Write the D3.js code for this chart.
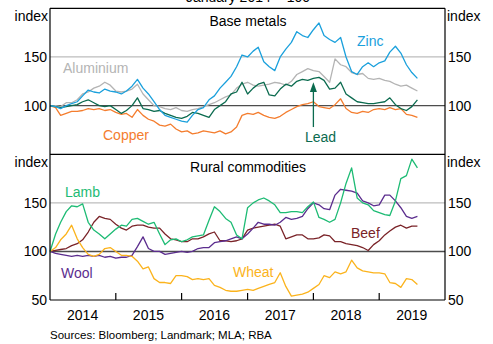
<!DOCTYPE html>
<html>
<head>
<meta charset="utf-8">
<script src="https://cdn.jsdelivr.net/npm/d3@7"></script>
<style>
  html, body { margin: 0; padding: 0; background: #fff; }
  svg { display: block; font-family: "Liberation Sans", Arial, sans-serif; }
</style>
</head>
<body>
<svg id="chart" width="493" height="344"></svg>
<script>
// Monthly observations, January 2014 to August 2019 (January 2014 = 100)
const dates = d3.timeMonth.range(new Date(2014, 0, 1), new Date(2019, 8, 1));

// Base metals
const zinc = [100, 99, 97, 100, 102, 104, 110, 116, 114, 113, 117, 115,
  114, 112, 115, 120, 127, 118, 112, 104, 96, 90, 88, 86,
  84, 83, 90, 96, 98, 106, 110, 118, 124, 130, 140, 152,
  150, 156, 160, 145, 140, 136, 150, 158, 165, 176, 172, 170,
  178, 185, 172, 168, 165, 170, 150, 135, 132, 140, 144, 140,
  144, 146, 155, 161, 154, 142, 134, 128];
const aluminium = [100, 100, 99, 103, 103, 106, 112, 114, 118, 120, 124, 121,
  115, 114, 115, 117, 122, 112, 106, 100, 99, 97, 96, 98,
  95, 94, 96, 97, 99, 101, 103, 106, 109, 111, 118, 122,
  124, 121, 120, 121, 122, 124, 123, 121, 125, 132, 135, 138,
  136, 135, 130, 124, 148, 142, 140, 134, 132, 133, 128, 127,
  128, 126, 125, 122, 120, 121, 118, 115];
const lead = [100, 99, 98, 99, 100, 101, 104, 106, 103, 100, 99, 100,
  96, 92, 95, 100, 108, 97, 96, 94, 95, 92, 90, 88,
  87, 89, 93, 92, 90, 88, 96, 100, 104, 112, 114, 124,
  112, 118, 122, 124, 111, 110, 117, 122, 120, 125, 127, 126,
  128, 129, 126, 117, 118, 124, 112, 108, 104, 103, 102, 102,
  103, 104, 108, 101, 97, 95, 99, 106];
const copper = [100, 98, 90, 92, 94, 94, 95, 97, 96, 97, 95, 96,
  93, 91, 92, 88, 96, 90, 86, 84, 80, 79, 81, 76,
  73, 74, 71, 72, 74, 73, 72, 74, 71, 73, 78, 90,
  92, 91, 93, 90, 88, 87, 89, 93, 96, 99, 101, 102,
  104, 99, 98, 97, 101, 107, 97, 93, 92, 94, 93, 96,
  97, 96, 98, 96, 97, 91, 90, 88];

// Rural commodities
const lamb = [100, 118, 130, 141, 147, 146, 149, 130, 122, 118, 113, 118,
  123, 127, 126, 133, 134, 131, 128, 130, 118, 107, 112, 113,
  110, 112, 115, 116, 117, 132, 146, 141, 134, 130, 117, 113,
  145, 150, 153, 155, 152, 148, 140, 140, 141, 141, 140, 146,
  151, 135, 133, 130, 133, 150, 170, 186, 155, 150, 148, 142,
  140, 138, 137, 152, 175, 178, 195, 186];
const beef = [100, 101, 102, 103, 106, 108, 112, 120, 130, 136, 134, 133,
  128, 124, 122, 126, 127, 127, 125, 124, 124, 118, 113, 112,
  110, 110, 113, 113, 115, 118, 120, 111, 111, 110, 111, 113,
  122, 124, 125, 126, 127, 128, 126, 113, 115, 117, 117, 113,
  113, 114, 117, 116, 110, 110, 108, 107, 106, 104, 101, 107,
  111, 117, 121, 125, 127, 124, 126, 126];
const wool = [100, 98, 97, 96, 95, 96, 95, 96, 95, 96, 94, 95,
  93, 94, 94, 96, 105, 115, 103, 100, 100, 97, 98, 99,
  100, 99, 100, 103, 104, 104, 109, 110, 111, 113, 115, 113,
  118, 124, 130, 128, 128, 127, 130, 135, 133, 134, 136, 144,
  150, 148, 144, 143, 158, 164, 163, 162, 160, 152, 150, 147,
  148, 158, 158, 152, 145, 136, 134, 136];
const wheat = [100, 104, 112, 118, 127, 113, 104, 97, 95, 97, 103, 104,
  100, 96, 96, 95, 90, 82, 84, 72, 68, 68, 67, 75,
  75, 74, 71, 72, 71, 72, 65, 63, 60, 59, 59, 60,
  61, 60, 62, 64, 66, 68, 78, 64, 54, 55, 56, 58,
  62, 66, 75, 73, 79, 77, 79, 91, 83, 80, 79, 78,
  78, 77, 68, 67, 63, 72, 71, 66];

// Axis labelling
const yearTicks = [2014, 2015, 2016, 2017, 2018, 2019];
const leftTicks = [100, 150];
const bottomLeftTicks = [50, 100, 150];

const colors = {
  Zinc: "#1aa0dc", Aluminium: "#b4b4b4", Lead: "#0b6b4f", Copper: "#f47d2e",
  Lamb: "#1dbb74", Beef: "#7a2328", Wool: "#5b2d8e", Wheat: "#fbb31c"
};

const svg = d3.select("#chart");
const left = 50, right = 445;
const x = d3.scaleTime()
  .domain([new Date(2014, 0, 1), new Date(2020, 0, 1)])
  .range([left, right]);

const panels = [
  { title: "Base metals", top: 8.3, bottom: 154.3, ticks: leftTicks,
    series: [["Aluminium", aluminium], ["Copper", copper], ["Lead", lead], ["Zinc", zinc]] },
  { title: "Rural commodities", top: 154.3, bottom: 300, ticks: bottomLeftTicks,
    series: [["Beef", beef], ["Wool", wool], ["Wheat", wheat], ["Lamb", lamb]] }
];

panels.forEach(p => {
  p.y = d3.scaleLinear().domain([50, 200]).range([p.bottom, p.top]);
});

// gridlines
panels.forEach(p => {
  const g = svg.append("g");
  g.append("line").attr("x1", left).attr("x2", right)
    .attr("y1", p.y(150)).attr("y2", p.y(150))
    .attr("stroke", "#bdbdbd").attr("stroke-width", 1.2);
  g.append("line").attr("x1", left).attr("x2", right)
    .attr("y1", p.y(100)).attr("y2", p.y(100))
    .attr("stroke", "#4d4d4d").attr("stroke-width", 1.4);
});

// series lines
panels.forEach(p => {
  const line = d3.line().x((d, i) => x(dates[i])).y(d => p.y(d));
  p.series.forEach(([name, vals]) => {
    svg.append("path").datum(vals)
      .attr("d", line)
      .attr("fill", "none")
      .attr("stroke", colors[name])
      .attr("stroke-width", 1.3)
      .attr("stroke-linejoin", "round");
  });
});

// frame
const frame = svg.append("g").attr("stroke", "#000").attr("stroke-width", 1.2);
frame.append("line").attr("x1", left).attr("x2", left).attr("y1", panels[0].top).attr("y2", panels[1].bottom);
frame.append("line").attr("x1", right).attr("x2", right).attr("y1", panels[0].top).attr("y2", panels[1].bottom);
frame.append("line").attr("x1", left).attr("x2", right).attr("y1", panels[0].top).attr("y2", panels[0].top);
frame.append("line").attr("x1", left).attr("x2", right).attr("y1", panels[0].bottom).attr("y2", panels[0].bottom);
frame.append("line").attr("x1", left).attr("x2", right).attr("y1", panels[1].bottom).attr("y2", panels[1].bottom);

// year ticks on the bottom axis
yearTicks.slice(1).forEach(yr => {
  const xx = x(new Date(yr, 0, 1));
  svg.append("line").attr("x1", xx).attr("x2", xx)
    .attr("y1", panels[1].bottom).attr("y2", panels[1].bottom - 7)
    .attr("stroke", "#000").attr("stroke-width", 1.2);
});
yearTicks.forEach(yr => {
  svg.append("text")
    .attr("x", x(new Date(yr, 6, 1)))
    .attr("y", 319.5)
    .attr("text-anchor", "middle")
    .attr("font-size", 14)
    .text(yr);
});

// value axes on both sides
panels.forEach(p => {
  p.ticks.forEach(v => {
    svg.append("text").attr("x", left - 3).attr("y", p.y(v) + 5)
      .attr("text-anchor", "end").attr("font-size", 14).text(v);
    svg.append("text").attr("x", right + 3).attr("y", p.y(v) + 5)
      .attr("text-anchor", "start").attr("font-size", 14).text(v);
  });
  svg.append("text").attr("x", left - 2).attr("y", p.top + 12.5)
    .attr("text-anchor", "end").attr("font-size", 14).text("index");
  svg.append("text").attr("x", right + 2).attr("y", p.top + 12.5)
    .attr("text-anchor", "start").attr("font-size", 14).text("index");
  svg.append("text").attr("x", 248).attr("y", p.top + 18)
    .attr("text-anchor", "middle").attr("font-size", 14).text(p.title);
});

// title, partly above the top edge of the canvas
svg.append("text").attr("x", 248).attr("y", 2)
  .attr("text-anchor", "middle").attr("font-size", 14).text("January 2014 = 100");

// series labels
const labels = [
  ["Aluminium", 63, 73], ["Copper", 103, 140], ["Zinc", 357, 46], ["Lead", 305, 142],
  ["Lamb", 65, 197], ["Wool", 61, 278], ["Wheat", 233, 277], ["Beef", 351, 238]
];
labels.forEach(([name, lx, ly]) => {
  svg.append("text").attr("x", lx).attr("y", ly)
    .attr("font-size", 14).attr("fill", colors[name]).text(name);
});

// arrow from the Lead label up to its line
const ax = x(new Date(2018, 0, 1));
const yTop = panels[0].y;
svg.append("line").attr("x1", ax).attr("x2", ax)
  .attr("y1", yTop(78)).attr("y2", yTop(117))
  .attr("stroke", colors.Lead).attr("stroke-width", 1.3);
svg.append("path")
  .attr("d", `M${ax},${yTop(124)} L${ax - 3.5},${yTop(114)} L${ax + 3.5},${yTop(114)} Z`)
  .attr("fill", colors.Lead);

// source note
svg.append("text").attr("x", 50).attr("y", 339)
  .attr("font-size", 11.5).text("Sources: Bloomberg; Landmark; MLA; RBA");
</script>
</body>
</html>
